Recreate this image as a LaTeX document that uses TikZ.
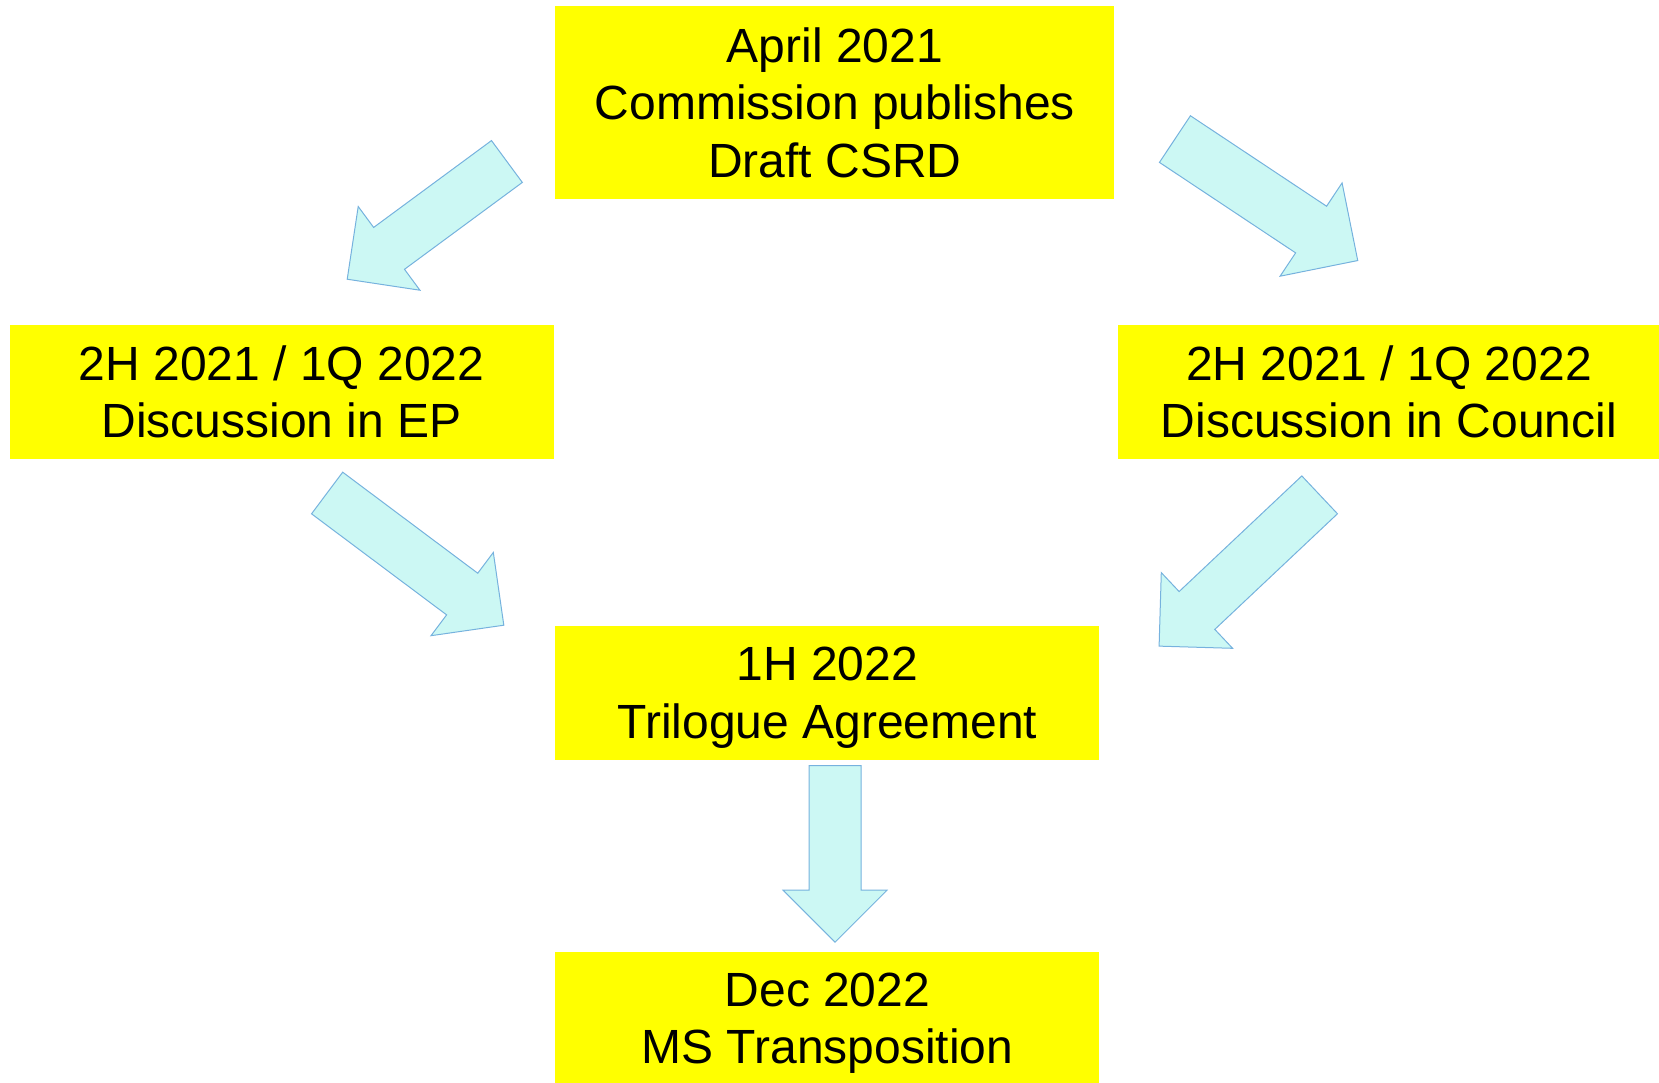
\documentclass[tikz,border=0pt]{standalone}
\usepackage{fontspec}
\setmainfont{Liberation Sans}
\usetikzlibrary{positioning,shapes.arrows}

\definecolor{boxyellow}{RGB}{255,255,0}
\definecolor{arrowfill}{RGB}{204,248,244}
\definecolor{arrowline}{RGB}{118,178,222}

\begin{document}
\begin{tikzpicture}[
    every node/.style={font=\fontsize{24}{28.8}\selectfont},
    box/.style={fill=boxyellow,minimum width=272pt,minimum height=67pt,inner sep=0pt,
        text depth=0pt,align=center},
    blockarrow/.style={single arrow,draw=arrowline,fill=arrowfill,line width=0.5pt,anchor=tail,
        inner sep=12.75pt,single arrow head extend=13pt,single arrow tip angle=90}
]
\useasboundingbox (0,0) rectangle (829.5pt,-541pt);

% Commission proposal
\node[box,minimum width=279.4pt,minimum height=96.3pt] (draft) at (417.4pt,-51.3pt)
    {April 2021\\Commission publishes\\Draft CSRD};

% Parliament and Council
\node[box,below left=62.5pt and 0.5pt of draft.south west,anchor=north east] (ep)
    {2H 2021 / 1Q 2022\\Discussion in EP};
\node[box,below right=62.5pt and 1.5pt of draft.south east,anchor=north west,minimum width=271pt] (council)
    {2H 2021 / 1Q 2022\\Discussion in Council};

% Trilogue
\node[box,below right=83pt and 0.5pt of ep.south east,anchor=north west] (trilogue)
    {1H 2022\\Trilogue Agreement};

% Transposition
\node[box,below=96pt of trilogue,minimum height=66pt] (transp)
    {Dec 2022\\MS Transposition};

% Block arrows (placed by their tails)
\node[blockarrow,minimum height=99.2pt,rotate=216.4] (a1) at (253.65pt,-80.6pt) {};
\node[blockarrow,minimum height=109.75pt,rotate=-33.6,inner sep=13.75pt,single arrow head extend=14pt]
    (a2) at (587.25pt,-69.4pt) {};
\node[blockarrow,minimum height=110.35pt,rotate=-36.8] (a3) at (163.35pt,-246.35pt) {};
\node[blockarrow,minimum height=110.3pt,rotate=223.3] (a4) at (660pt,-247.25pt) {};
\node[blockarrow,minimum height=88.35pt,rotate=-90] (a5) at (417.5pt,-382.5pt) {};

\end{tikzpicture}
\end{document}
